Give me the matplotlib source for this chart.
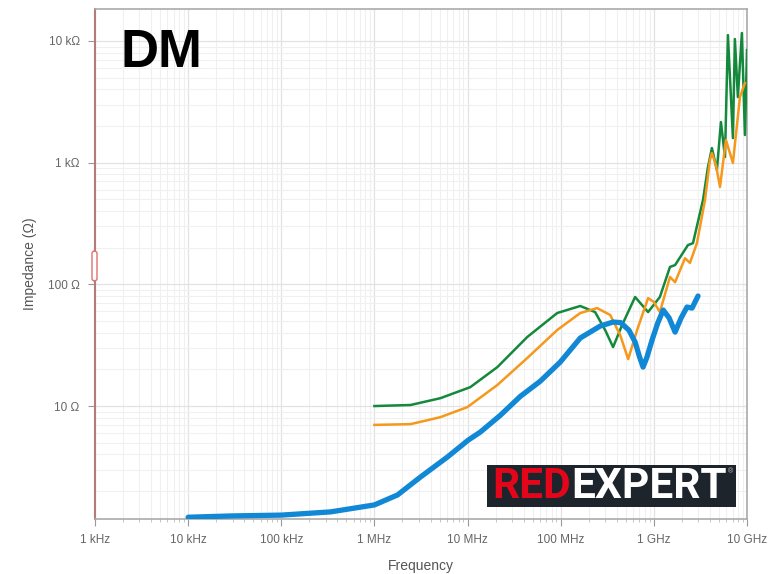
import numpy as np
import matplotlib
matplotlib.use("Agg")
import matplotlib.pyplot as plt
from matplotlib.ticker import FixedLocator, LogLocator, NullFormatter
from matplotlib.patches import FancyBboxPatch, Rectangle

plt.rcParams['font.family'] = ['Liberation Sans', 'DejaVu Sans']

# impedance curves (Hz, Ohm)
blue_f = [10e3, 28.7e3, 100e3, 338e3, 1.0e6, 1.77e6, 3.12e6, 6.07e6, 10.2e6, 13.7e6,
          22.5e6, 36.8e6, 60.3e6, 98.9e6, 162e6, 265e6, 365e6, 440e6, 540e6, 629e6,
          700e6, 766e6, 840e6, 957e6, 1.1e9, 1.26e9, 1.46e9, 1.69e9, 1.96e9, 2.27e9,
          2.57e9, 2.98e9]
blue_z = [1.22, 1.25, 1.27, 1.35, 1.54, 1.86, 2.61, 3.81, 5.26, 6.11,
          8.4, 12.0, 16.0, 23.0, 36.2, 45.4, 49.0, 48.5, 42.0, 33.6,
          25.5, 20.9, 25.0, 34.9, 48.0, 61.5, 52.9, 40.5, 52.9, 65.1,
          63.8, 80.2]

orange_f = [1.0e6, 2.44e6, 5.1e6, 9.95e6, 20.9e6, 43.7e6, 91.6e6, 162e6, 246e6, 340e6,
            435e6, 530e6, 661e6, 867e6, 1.0e9, 1.16e9, 1.49e9, 1.69e9, 2.16e9, 2.44e9,
            2.9e9, 3.54e9, 4.0e9, 4.2e9, 4.64e9, 5.13e9, 5.94e9, 7.06e9, 8.4e9, 9.5e9]
orange_z = [7.0, 7.1, 8.1, 9.8, 14.9, 24.8, 42.1, 58.1, 63.8, 56.0,
            38.3, 24.3, 42.1, 77.1, 71.6, 59.2, 115, 104, 164, 150,
            218, 493, 1050, 1200, 955, 631, 1535, 993, 3460, 4510]

green_f = [1.0e6, 2.44e6, 5.1e6, 10.7e6, 20.9e6, 43.7e6, 91.6e6, 162e6, 234e6, 300e6,
           365e6, 456e6, 629e6, 867e6, 1.16e9, 1.49e9, 1.69e9, 2.32e9, 2.63e9, 3.37e9,
           3.81e9, 4.2e9, 4.75e9, 5.25e9, 5.8e9, 6.24e9, 7.06e9, 7.41e9, 7.98e9, 8.81e9,
           9.5e9, 10e9]
green_z = [10.0, 10.2, 11.6, 14.3, 20.9, 36.9, 58.1, 66.4, 59.2, 42.1,
           30.5, 46.3, 78.7, 59.2, 78.7, 139, 144, 210, 218, 493,
           920, 1318, 869, 2157, 1112, 11170, 1592, 10370, 3460, 11620,
           1687, 8410]

x_ticks = [1e3, 1e4, 1e5, 1e6, 1e7, 1e8, 1e9, 1e10]
x_labels = ["1 kHz", "10 kHz", "100 kHz", "1 MHz", "10 MHz", "100 MHz", "1 GHz", "10 GHz"]
y_ticks = [10, 100, 1e3, 1e4]
y_labels = ["10 Ω", "100 Ω", "1 kΩ", "10 kΩ"]

fig = plt.figure(figsize=(7.79, 5.74), dpi=100)
ax = fig.add_axes([95 / 779, 55 / 574, 652 / 779, 510 / 574])
ax.set_xscale("log")
ax.set_yscale("log")
ax.set_xlim(1e3, 1e10)
ax.set_ylim(1.18, 18300)

ax.plot(green_f, green_z, color="#14893c", lw=1.8, zorder=3)
ax.plot(orange_f, orange_z, color="#f5981c", lw=1.8, zorder=3)
ax.plot(blue_f, blue_z, color="#1188d5", lw=3.8, zorder=4, solid_capstyle="round",
        solid_joinstyle="round")

ax.xaxis.set_major_locator(FixedLocator(x_ticks))
ax.set_xticklabels(x_labels)
ax.xaxis.set_minor_locator(LogLocator(base=10, subs=np.arange(2, 10)))
ax.xaxis.set_minor_formatter(NullFormatter())
ax.yaxis.set_major_locator(FixedLocator(y_ticks))
ax.set_yticklabels(y_labels)
ax.yaxis.set_minor_locator(LogLocator(base=10, subs=np.arange(2, 10)))
ax.yaxis.set_minor_formatter(NullFormatter())

ax.grid(which="major", color="#e2e2e2", lw=0.9)
ax.grid(which="minor", color="#f0f0f0", lw=0.8)
ax.set_axisbelow(True)

ax.tick_params(which="major", length=5, color="#999999", labelcolor="#666666", labelsize=8.5, pad=6)
ax.tick_params(which="minor", length=2, color="#bbbbbb")
ax.tick_params(axis="y", which="minor", left=False)

for s in ["top", "right", "bottom"]:
    ax.spines[s].set_color("#aaaaaa")
    ax.spines[s].set_linewidth(1.2)
ax.spines["left"].set_color("#b57a7a")
ax.spines["left"].set_linewidth(1.5)

ax.set_xlabel("Frequency", color="#555555", fontsize=10, labelpad=9)
ax.set_ylabel("Impedance (Ω)", color="#555555", fontsize=10, labelpad=8)

# small handle on the left axis
fig.patches.append(FancyBboxPatch((92 / 779, 1 - 281 / 574), 5 / 779, 30 / 574,
                                  boxstyle="round,pad=0,rounding_size=0.004",
                                  transform=fig.transFigure, facecolor="white",
                                  edgecolor="#e07070", lw=1, zorder=5))

fig.text(121 / 779, 1 - 53 / 574, "DM", fontsize=38, fontweight="bold",
         color="black", va="center", ha="left")

# logo
ax.add_patch(Rectangle((487 / 779, 1 - 507 / 574), 249 / 779, 42 / 574,
                       transform=fig.transFigure, facecolor="#1e242b",
                       edgecolor="none", zorder=5, clip_on=False))
red = ax.text(492 / 779, 1 - 486 / 574, "RED", transform=fig.transFigure, color="#e3061a",
              fontsize=30.5, fontweight="bold", family="Roboto", va="center", ha="left", zorder=6)
exp = ax.annotate("EXPERT", xy=(1, 0.5), xycoords=red, color="white", fontsize=30.5,
                  fontweight="bold", family="Roboto", va="center", ha="left",
                  annotation_clip=False, zorder=6)
ax.annotate("®", xy=(1.01, 0.85), xycoords=exp, color="#cccccc", fontsize=5,
            va="center", ha="left", annotation_clip=False, zorder=6)

fig.savefig("out.png", dpi=100)
